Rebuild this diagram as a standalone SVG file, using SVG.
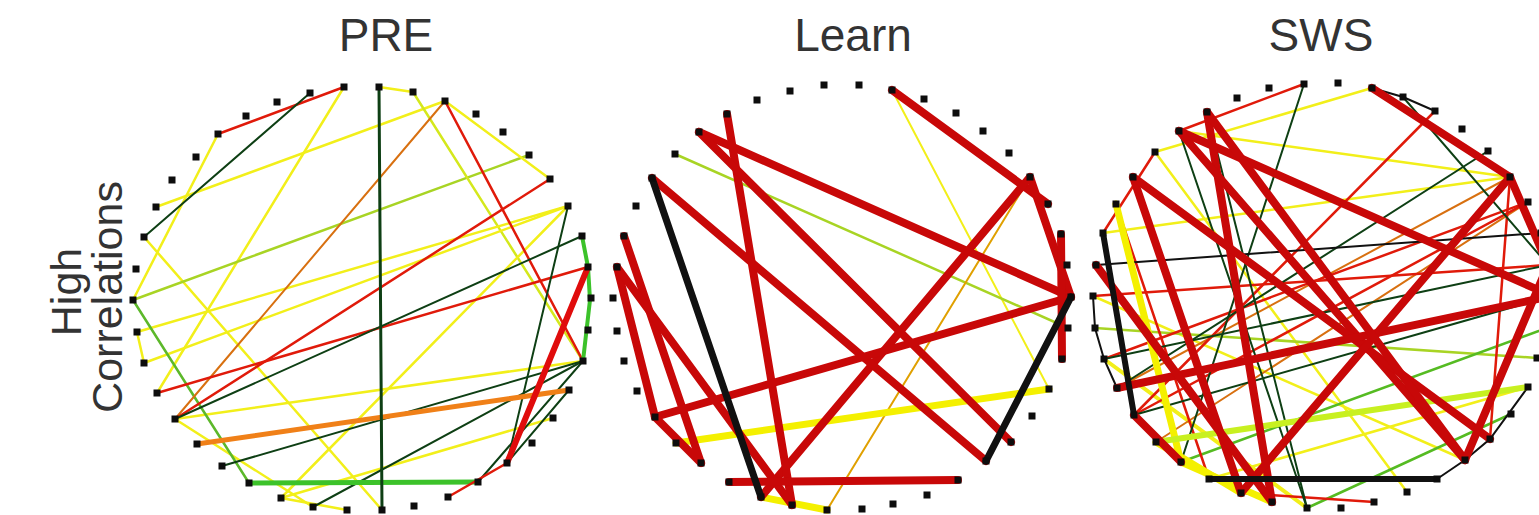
<svg xmlns="http://www.w3.org/2000/svg" width="1539" height="515" viewBox="0 0 1539 515">
<style>
text{font-family:"Liberation Sans",Arial,sans-serif;fill:#333}
.t{font-size:46px;text-anchor:middle}
.v{font-size:43px;text-anchor:middle}
.q{fill:#0d0d0d}
#connectors line,#connectors polyline{stroke-linecap:round;fill:none}
.r{stroke:#e01a0a;stroke-width:2.5}
.R{stroke:#c80808;stroke-width:8}
.y{stroke:#f2ef1a;stroke-width:2.5}
.Y{stroke:#f4f000;stroke-width:7}
.g{stroke:#0e3f14;stroke-width:2}
.G{stroke:#3cc22a;stroke-width:5}
.yg{stroke:#a8d424;stroke-width:2.5}
.YG{stroke:#c8f020;stroke-width:6}
.o{stroke:#d87010;stroke-width:2}
.O{stroke:#f08018;stroke-width:5}
.k{stroke:#111;stroke-width:2}
.K{stroke:#111;stroke-width:7}
</style>
<defs><rect id="q" class="q" x="-3.5" y="-3.5" width="7" height="7"/></defs>
<rect width="1539" height="515" fill="#fff"/>
<g id="titles">
<text class="t" x="386" y="51">PRE</text>
<text class="t" x="853" y="51">Learn</text>
<text class="t" x="1321" y="51">SWS</text>
<text class="v" transform="translate(81,292) rotate(-90)">High</text>
<text class="v" transform="translate(122,297) rotate(-90)">Correlations</text>
</g>
<g id="connectors">
<g id="pre-edges">
<line class="y" x1="218" y1="134" x2="133" y2="300"/>
<line class="y" x1="344" y1="87" x2="157" y2="393"/>
<line class="y" x1="156" y1="207" x2="445" y2="101"/>
<line class="y" x1="144" y1="237" x2="382" y2="510"/>
<line class="yg" x1="133" y1="300" x2="529" y2="155"/>
<line class="y" x1="379" y1="87" x2="413" y2="92"/>
<line class="y" x1="413" y1="92" x2="583" y2="361" style="stroke:#d4e81c"/>
<line class="y" x1="445" y1="101" x2="550" y2="179"/>
<line class="y" x1="568" y1="206" x2="137" y2="332"/>
<line class="y" x1="568" y1="206" x2="144" y2="363"/>
<line class="y" x1="175" y1="419" x2="583" y2="361"/>
<line class="y" x1="281" y1="498" x2="568" y2="206"/>
<line class="y" x1="281" y1="498" x2="553" y2="418"/>
<line class="y" x1="137" y1="332" x2="144" y2="363"/>
<line class="y" x1="175" y1="419" x2="313" y2="507"/>
<line class="y" x1="281" y1="498" x2="347" y2="510"/>
<line class="yg" x1="133" y1="300" x2="249" y2="483" style="stroke:#5cb82a"/>
<line class="o" x1="445" y1="101" x2="175" y2="419"/>
<line class="r" x1="218" y1="134" x2="344" y2="87"/>
<line class="g" x1="144" y1="237" x2="310" y2="93"/>
<line class="r" x1="445" y1="101" x2="583" y2="361"/>
<line class="r" x1="550" y1="179" x2="175" y2="419"/>
<line class="r" x1="157" y1="393" x2="588" y2="267"/>
<line class="g" x1="175" y1="419" x2="582" y2="236"/>
<line class="g" x1="568" y1="206" x2="507" y2="463"/>
<line class="g" x1="222" y1="466" x2="583" y2="361"/>
<line class="g" x1="313" y1="507" x2="583" y2="361"/>
<line class="g" x1="583" y1="361" x2="478" y2="482"/>
<line class="g" x1="569" y1="390" x2="507" y2="463"/>
<line class="O" x1="197" y1="444" x2="569" y2="390"/>
<line class="G" x1="249" y1="483" x2="478" y2="482"/>
<polyline class="G" points="582,236 588,267 590,300 583,361" style="stroke-width:4"/>
<line class="R" x1="588" y1="267" x2="507" y2="463" style="stroke-width:6;stroke:#e00c0c"/>
<line class="r" x1="507" y1="463" x2="448" y2="497"/>
<line class="g" x1="379" y1="87" x2="382" y2="510" style="stroke-width:3"/>
</g>
<g id="learn-edges">
<line class="y" x1="892" y1="90" x2="1049" y2="389" style="stroke-width:2"/>
<line class="yg" x1="675" y1="154" x2="1068" y2="328"/>
<line class="o" x1="827" y1="510" x2="1030" y2="177" style="stroke:#e0a000"/>
<line class="Y" x1="676" y1="443" x2="1049" y2="389"/>
<line class="Y" x1="761" y1="497" x2="827" y2="510"/>
<line class="R" x1="892" y1="90" x2="1048" y2="204"/>
<line class="R" x1="1030" y1="177" x2="761" y2="497"/>
<line class="R" x1="1030" y1="177" x2="1071" y2="297"/>
<line class="R" x1="699" y1="132" x2="1071" y2="297"/>
<line class="R" x1="727" y1="114" x2="792" y2="505"/>
<line class="R" x1="652" y1="178" x2="986" y2="461"/>
<line class="R" x1="699" y1="132" x2="1011" y2="442"/>
<line class="R" x1="624" y1="236" x2="701" y2="463"/>
<line class="R" x1="617" y1="267" x2="655" y2="417"/>
<line class="R" x1="617" y1="267" x2="792" y2="505"/>
<line class="R" x1="655" y1="417" x2="701" y2="463"/>
<line class="R" x1="655" y1="417" x2="1071" y2="297"/>
<line class="R" x1="729" y1="482" x2="958" y2="480"/>
<line class="R" x1="1061" y1="234" x2="1062" y2="359"/>
<line class="K" x1="652" y1="178" x2="761" y2="497"/>
<line class="K" x1="986" y1="461" x2="1071" y2="297"/>
</g>
<g id="sws-edges">
<line class="y" x1="1372" y1="88" x2="1155" y2="152"/>
<line class="y" x1="1179" y1="131" x2="1510" y2="177"/>
<line class="y" x1="1103" y1="233" x2="1510" y2="177"/>
<line class="y" x1="1155" y1="152" x2="1407" y2="492"/>
<line class="y" x1="1209" y1="479" x2="1528" y2="387"/>
<line class="y" x1="1093" y1="296" x2="1465" y2="460"/>
<line class="y" x1="1104" y1="359" x2="1307" y2="508" style="stroke-width:4"/>
<line class="yg" x1="1095" y1="328" x2="1537" y2="358"/>
<line class="yg" x1="1181" y1="462" x2="1547" y2="328" style="stroke:#55bb22"/>
<line class="yg" x1="1307" y1="508" x2="1511" y2="414" style="stroke:#55bb22"/>
<line class="o" x1="1510" y1="177" x2="1117" y2="388"/>
<line class="o" x1="1528" y1="202" x2="1156" y2="442"/>
<line class="r" x1="1179" y1="131" x2="1304" y2="84"/>
<line class="r" x1="1435" y1="111" x2="1134" y2="415"/>
<line class="r" x1="1116" y1="204" x2="1209" y2="479"/>
<line class="r" x1="1155" y1="152" x2="1103" y2="233"/>
<line class="r" x1="1510" y1="177" x2="1490" y2="439"/>
<line class="r" x1="1093" y1="296" x2="1548" y2="265"/>
<line class="r" x1="1104" y1="359" x2="1528" y2="202"/>
<line class="r" x1="1134" y1="415" x2="1528" y2="202"/>
<line class="r" x1="1241" y1="493" x2="1374" y2="502"/>
<line class="g" x1="1304" y1="84" x2="1181" y2="462"/>
<line class="g" x1="1403" y1="97" x2="1548" y2="265"/>
<line class="g" x1="1117" y1="388" x2="1488" y2="151"/>
<line class="g" x1="1207" y1="112" x2="1307" y2="508"/>
<line class="g" x1="1179" y1="131" x2="1307" y2="508"/>
<line class="g" x1="1134" y1="415" x2="1552" y2="296"/>
<line class="g" x1="1104" y1="359" x2="1548" y2="265"/>
<polyline class="k" points="1437,479 1465,460 1490,439 1528,387"/>
<polyline class="k" points="1372,88 1403,97 1435,111"/>
<polyline class="k" points="1093,296 1095,328 1104,359 1117,388"/>
<line class="k" x1="1096" y1="265" x2="1541" y2="233"/>
<line class="Y" x1="1116" y1="204" x2="1181" y2="462"/>
<line class="Y" x1="1156" y1="442" x2="1241" y2="493"/>
<line class="Y" x1="1181" y1="462" x2="1272" y2="502"/>
<line class="YG" x1="1156" y1="442" x2="1528" y2="387"/>
<line class="R" x1="1179" y1="131" x2="1552" y2="296"/>
<line class="R" x1="1207" y1="112" x2="1272" y2="502"/>
<line class="R" x1="1133" y1="177" x2="1241" y2="493"/>
<line class="R" x1="1179" y1="131" x2="1465" y2="460"/>
<line class="R" x1="1133" y1="177" x2="1490" y2="439"/>
<line class="R" x1="1510" y1="177" x2="1241" y2="493"/>
<line class="R" x1="1372" y1="88" x2="1510" y2="177"/>
<line class="R" x1="1510" y1="177" x2="1548" y2="265"/>
<line class="R" x1="1117" y1="388" x2="1552" y2="296"/>
<line class="R" x1="1207" y1="112" x2="1465" y2="460"/>
<line class="R" x1="1096" y1="265" x2="1272" y2="502"/>
<line class="R" x1="1134" y1="415" x2="1181" y2="462"/>
<line class="R" x1="1465" y1="460" x2="1548" y2="265"/>
<line class="K" x1="1103" y1="233" x2="1134" y2="415" style="stroke-width:6"/>
<line class="K" x1="1209" y1="479" x2="1437" y2="479" style="stroke-width:6"/>
</g>
</g>
<g id="pre-nodes">
<g id="pre-n0"><use href="#q" x="344" y="87"/></g>
<g id="pre-n1"><use href="#q" x="379" y="87"/></g>
<g id="pre-n2"><use href="#q" x="413" y="92"/></g>
<g id="pre-n3"><use href="#q" x="445" y="101"/></g>
<g id="pre-n4"><use href="#q" x="476" y="114"/></g>
<g id="pre-n5"><use href="#q" x="503" y="132"/></g>
<g id="pre-n6"><use href="#q" x="529" y="155"/></g>
<g id="pre-n7"><use href="#q" x="550" y="179"/></g>
<g id="pre-n8"><use href="#q" x="568" y="206"/></g>
<g id="pre-n9"><use href="#q" x="582" y="236"/></g>
<g id="pre-n10"><use href="#q" x="588" y="267"/></g>
<g id="pre-n11"><use href="#q" x="591" y="298"/></g>
<g id="pre-n12"><use href="#q" x="588" y="330"/></g>
<g id="pre-n13"><use href="#q" x="583" y="361"/></g>
<g id="pre-n14"><use href="#q" x="569" y="390"/></g>
<g id="pre-n15"><use href="#q" x="553" y="418"/></g>
<g id="pre-n16"><use href="#q" x="532" y="443"/></g>
<g id="pre-n17"><use href="#q" x="507" y="463"/></g>
<g id="pre-n18"><use href="#q" x="478" y="482"/></g>
<g id="pre-n19"><use href="#q" x="448" y="497"/></g>
<g id="pre-n20"><use href="#q" x="414" y="506"/></g>
<g id="pre-n21"><use href="#q" x="382" y="510"/></g>
<g id="pre-n22"><use href="#q" x="347" y="510"/></g>
<g id="pre-n23"><use href="#q" x="313" y="507"/></g>
<g id="pre-n24"><use href="#q" x="281" y="498"/></g>
<g id="pre-n25"><use href="#q" x="249" y="483"/></g>
<g id="pre-n26"><use href="#q" x="222" y="466"/></g>
<g id="pre-n27"><use href="#q" x="197" y="444"/></g>
<g id="pre-n28"><use href="#q" x="175" y="419"/></g>
<g id="pre-n29"><use href="#q" x="157" y="393"/></g>
<g id="pre-n30"><use href="#q" x="144" y="363"/></g>
<g id="pre-n31"><use href="#q" x="137" y="332"/></g>
<g id="pre-n32"><use href="#q" x="133" y="300"/></g>
<g id="pre-n33"><use href="#q" x="136" y="269"/></g>
<g id="pre-n34"><use href="#q" x="144" y="237"/></g>
<g id="pre-n35"><use href="#q" x="156" y="207"/></g>
<g id="pre-n36"><use href="#q" x="172" y="180"/></g>
<g id="pre-n37"><use href="#q" x="196" y="157"/></g>
<g id="pre-n38"><use href="#q" x="218" y="134"/></g>
<g id="pre-n39"><use href="#q" x="246" y="116"/></g>
<g id="pre-n40"><use href="#q" x="277" y="102"/></g>
<g id="pre-n41"><use href="#q" x="310" y="93"/></g>
</g>
<g id="learn-nodes">
<g id="learn-n0"><use href="#q" x="824" y="85"/></g>
<g id="learn-n1"><use href="#q" x="859" y="85"/></g>
<g id="learn-n2"><use href="#q" x="892" y="90"/></g>
<g id="learn-n3"><use href="#q" x="924" y="99"/></g>
<g id="learn-n4"><use href="#q" x="956" y="113"/></g>
<g id="learn-n5"><use href="#q" x="983" y="131"/></g>
<g id="learn-n6"><use href="#q" x="1009" y="153"/></g>
<g id="learn-n7"><use href="#q" x="1030" y="177"/></g>
<g id="learn-n8"><use href="#q" x="1048" y="204"/></g>
<g id="learn-n9"><use href="#q" x="1061" y="234"/></g>
<g id="learn-n10"><use href="#q" x="1067" y="265"/></g>
<g id="learn-n11"><use href="#q" x="1071" y="297"/></g>
<g id="learn-n12"><use href="#q" x="1068" y="328"/></g>
<g id="learn-n13"><use href="#q" x="1062" y="359"/></g>
<g id="learn-n14"><use href="#q" x="1049" y="389"/></g>
<g id="learn-n15"><use href="#q" x="1032" y="416"/></g>
<g id="learn-n16"><use href="#q" x="1011" y="442"/></g>
<g id="learn-n17"><use href="#q" x="986" y="461"/></g>
<g id="learn-n18"><use href="#q" x="958" y="480"/></g>
<g id="learn-n19"><use href="#q" x="927" y="495"/></g>
<g id="learn-n20"><use href="#q" x="893" y="504"/></g>
<g id="learn-n21"><use href="#q" x="862" y="509"/></g>
<g id="learn-n22"><use href="#q" x="827" y="510"/></g>
<g id="learn-n23"><use href="#q" x="792" y="505"/></g>
<g id="learn-n24"><use href="#q" x="761" y="497"/></g>
<g id="learn-n25"><use href="#q" x="729" y="482"/></g>
<g id="learn-n26"><use href="#q" x="701" y="463"/></g>
<g id="learn-n27"><use href="#q" x="676" y="443"/></g>
<g id="learn-n28"><use href="#q" x="655" y="417"/></g>
<g id="learn-n29"><use href="#q" x="637" y="391"/></g>
<g id="learn-n30"><use href="#q" x="624" y="361"/></g>
<g id="learn-n31"><use href="#q" x="617" y="331"/></g>
<g id="learn-n32"><use href="#q" x="613" y="298"/></g>
<g id="learn-n33"><use href="#q" x="617" y="267"/></g>
<g id="learn-n34"><use href="#q" x="624" y="236"/></g>
<g id="learn-n35"><use href="#q" x="636" y="206"/></g>
<g id="learn-n36"><use href="#q" x="652" y="178"/></g>
<g id="learn-n37"><use href="#q" x="675" y="154"/></g>
<g id="learn-n38"><use href="#q" x="699" y="132"/></g>
<g id="learn-n39"><use href="#q" x="727" y="114"/></g>
<g id="learn-n40"><use href="#q" x="757" y="100"/></g>
<g id="learn-n41"><use href="#q" x="790" y="91"/></g>
</g>
<g id="sws-nodes">
<g id="sws-n0"><use href="#q" x="1304" y="84"/></g>
<g id="sws-n1"><use href="#q" x="1338" y="83"/></g>
<g id="sws-n2"><use href="#q" x="1372" y="88"/></g>
<g id="sws-n3"><use href="#q" x="1403" y="97"/></g>
<g id="sws-n4"><use href="#q" x="1435" y="111"/></g>
<g id="sws-n5"><use href="#q" x="1462" y="129"/></g>
<g id="sws-n6"><use href="#q" x="1488" y="151"/></g>
<g id="sws-n7"><use href="#q" x="1510" y="177"/></g>
<g id="sws-n8"><use href="#q" x="1528" y="202"/></g>
<g id="sws-n9"><use href="#q" x="1541" y="233"/></g>
<g id="sws-n13"><use href="#q" x="1537" y="358"/></g>
<g id="sws-n14"><use href="#q" x="1528" y="387"/></g>
<g id="sws-n15"><use href="#q" x="1511" y="414"/></g>
<g id="sws-n16"><use href="#q" x="1490" y="439"/></g>
<g id="sws-n17"><use href="#q" x="1465" y="460"/></g>
<g id="sws-n18"><use href="#q" x="1437" y="479"/></g>
<g id="sws-n19"><use href="#q" x="1407" y="492"/></g>
<g id="sws-n20"><use href="#q" x="1374" y="502"/></g>
<g id="sws-n21"><use href="#q" x="1341" y="508"/></g>
<g id="sws-n22"><use href="#q" x="1307" y="508"/></g>
<g id="sws-n23"><use href="#q" x="1272" y="502"/></g>
<g id="sws-n24"><use href="#q" x="1241" y="493"/></g>
<g id="sws-n25"><use href="#q" x="1209" y="479"/></g>
<g id="sws-n26"><use href="#q" x="1181" y="462"/></g>
<g id="sws-n27"><use href="#q" x="1156" y="442"/></g>
<g id="sws-n28"><use href="#q" x="1134" y="415"/></g>
<g id="sws-n29"><use href="#q" x="1117" y="388"/></g>
<g id="sws-n30"><use href="#q" x="1104" y="359"/></g>
<g id="sws-n31"><use href="#q" x="1095" y="328"/></g>
<g id="sws-n32"><use href="#q" x="1093" y="296"/></g>
<g id="sws-n33"><use href="#q" x="1096" y="265"/></g>
<g id="sws-n34"><use href="#q" x="1103" y="233"/></g>
<g id="sws-n35"><use href="#q" x="1116" y="204"/></g>
<g id="sws-n36"><use href="#q" x="1133" y="177"/></g>
<g id="sws-n37"><use href="#q" x="1155" y="152"/></g>
<g id="sws-n38"><use href="#q" x="1179" y="131"/></g>
<g id="sws-n39"><use href="#q" x="1207" y="112"/></g>
<g id="sws-n40"><use href="#q" x="1237" y="98"/></g>
<g id="sws-n41"><use href="#q" x="1269" y="88"/></g>
</g>
</svg>
